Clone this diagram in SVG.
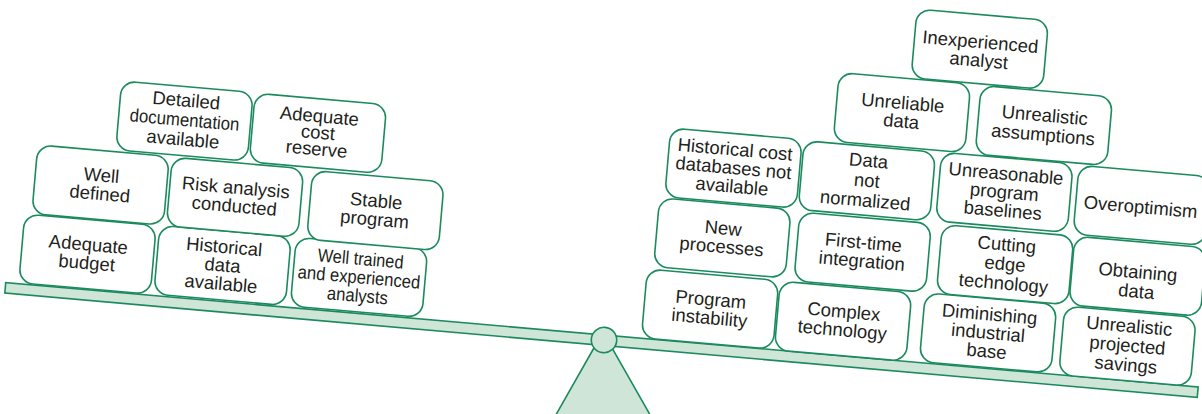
<svg xmlns="http://www.w3.org/2000/svg" width="1202" height="414" viewBox="0 0 1202 414">
<defs>
<style>
.box{fill:#ffffff;stroke:#1b8b5e;stroke-width:1.6}
.pale{fill:#cfe5d8;stroke:#1b8b5e;stroke-width:1.6}
text{font-family:"Liberation Sans",Arial,Helvetica,sans-serif;font-size:18.5px;fill:#231f20;text-anchor:middle}
</style>
</defs>
<rect width="1202" height="414" fill="#ffffff"/>
<polygon class="pale" points="603,332 553,420 653,420"/>
<g transform="rotate(5 604 340)">
<rect class="pale" x="3" y="335" width="1197" height="10.5"/>
<circle class="pale" cx="604" cy="340" r="12.7"/>
<g id="adequate-budget"><rect class="box" x="16" y="265" width="132" height="69" rx="14"/><text x="82"><tspan x="82" y="296">Adequate</tspan><tspan x="82" y="314.5">budget</tspan></text></g>
<g id="historical-data"><rect class="box" x="151.5" y="264.5" width="132" height="69" rx="14"/><text x="217.5"><tspan x="217.5" y="286.5">Historical</tspan><tspan x="217.5" y="305">data</tspan><tspan x="217.5" y="323.5">available</tspan></text></g>
<g id="well-trained"><rect class="box" x="288.5" y="264.5" width="132" height="69" rx="14"/><text x="354.5"><tspan x="354.5" y="286.5" textLength="86" lengthAdjust="spacingAndGlyphs">Well trained</tspan><tspan x="354.5" y="305" textLength="123" lengthAdjust="spacingAndGlyphs">and experienced</tspan><tspan x="354.5" y="323.5" textLength="61" lengthAdjust="spacingAndGlyphs">analysts</tspan></text></g>
<g id="well-defined"><rect class="box" x="23" y="195" width="132" height="69" rx="14"/><text x="89"><tspan x="89" y="226">Well</tspan><tspan x="89" y="244.5">defined</tspan></text></g>
<g id="risk-analysis"><rect class="box" x="158" y="195.5" width="132" height="69" rx="14"/><text x="224"><tspan x="224" y="226.5">Risk analysis</tspan><tspan x="224" y="245">conducted</tspan></text></g>
<g id="stable-program"><rect class="box" x="299" y="196.5" width="132" height="69" rx="14"/><text x="365"><tspan x="365" y="227.5">Stable</tspan><tspan x="365" y="246">program</tspan></text></g>
<g id="detailed-documentation"><rect class="box" x="101" y="124" width="132" height="69" rx="14"/><text x="167"><tspan x="167" y="144">Detailed</tspan><tspan x="167" y="163.5" textLength="110" lengthAdjust="spacingAndGlyphs">documentation</tspan><tspan x="167" y="183">available</tspan></text></g>
<g id="adequate-cost-reserve"><rect class="box" x="235" y="124.5" width="132" height="69" rx="14"/><text x="301"><tspan x="301" y="148">Adequate</tspan><tspan x="301" y="164.5">cost</tspan><tspan x="301" y="181">reserve</tspan></text></g>
<g id="program-instability"><rect class="box" x="641" y="265.5" width="132" height="69" rx="14"/><text x="707"><tspan x="707" y="296.5">Program</tspan><tspan x="707" y="315">instability</tspan></text></g>
<g id="complex-technology"><rect class="box" x="774.5" y="266" width="132" height="69" rx="14"/><text x="840.5"><tspan x="840.5" y="297">Complex</tspan><tspan x="840.5" y="315.5">technology</tspan></text></g>
<g id="diminishing-industrial-base"><rect class="box" x="920" y="265" width="132" height="69" rx="14"/><text x="986"><tspan x="986" y="287">Diminishing</tspan><tspan x="986" y="305.5">industrial</tspan><tspan x="986" y="324">base</tspan></text></g>
<g id="unrealistic-projected-savings"><rect class="box" x="1060" y="266" width="132" height="69" rx="14"/><text x="1126"><tspan x="1126" y="286.5">Unrealistic</tspan><tspan x="1126" y="306">projected</tspan><tspan x="1126" y="325.5">savings</tspan></text></g>
<g id="new-processes"><rect class="box" x="647" y="193.5" width="132" height="69" rx="14"/><text x="713"><tspan x="713" y="224.5">New</tspan><tspan x="713" y="243">processes</tspan></text></g>
<g id="first-time-integration"><rect class="box" x="788" y="195.5" width="132" height="69" rx="14"/><text x="854"><tspan x="854" y="226.5">First-time</tspan><tspan x="854" y="245">integration</tspan></text></g>
<g id="cutting-edge-technology"><rect class="box" x="931" y="195.5" width="132" height="69" rx="14"/><text x="997"><tspan x="997" y="216">Cutting</tspan><tspan x="997" y="235.5">edge</tspan><tspan x="997" y="255">technology</tspan></text></g>
<g id="obtaining-data"><rect class="box" x="1064" y="195.5" width="132" height="69" rx="14"/><text x="1130"><tspan x="1130" y="232">Obtaining</tspan><tspan x="1130" y="251.5">data</tspan></text></g>
<g id="historical-cost-databases"><rect class="box" x="652" y="123" width="132" height="69" rx="14"/><text x="718"><tspan x="718" y="145">Historical cost</tspan><tspan x="718" y="163.5">databases not</tspan><tspan x="718" y="182">available</tspan></text></g>
<g id="data-not-normalized"><rect class="box" x="786" y="124" width="132" height="69" rx="14"/><text x="852"><tspan x="852" y="144.5">Data</tspan><tspan x="852" y="164.5">not</tspan><tspan x="852" y="184.5">normalized</tspan></text></g>
<g id="unreasonable-program-baselines"><rect class="box" x="924" y="123.5" width="132" height="69" rx="14"/><text x="990"><tspan x="990" y="145.5">Unreasonable</tspan><tspan x="990" y="164">program</tspan><tspan x="990" y="182.5">baselines</tspan></text></g>
<g id="overoptimism"><rect class="box" x="1062" y="124.5" width="132" height="69" rx="14"/><text x="1127" y="167">Overoptimism</text></g>
<g id="unreliable-data"><rect class="box" x="815" y="53" width="132" height="69" rx="14"/><text x="881"><tspan x="881" y="84">Unreliable</tspan><tspan x="881" y="102.5">data</tspan></text></g>
<g id="unrealistic-assumptions"><rect class="box" x="957.5" y="53.5" width="132" height="69" rx="14"/><text x="1023.5"><tspan x="1023.5" y="84">Unrealistic</tspan><tspan x="1023.5" y="103.5">assumptions</tspan></text></g>
<g id="inexperienced-analyst"><rect class="box" x="887" y="-17" width="132" height="69" rx="14"/><text x="953"><tspan x="953" y="16.5">Inexperienced</tspan><tspan x="953" y="35">analyst</tspan></text></g>
</g>
<g id="connectors"/>
</svg>
